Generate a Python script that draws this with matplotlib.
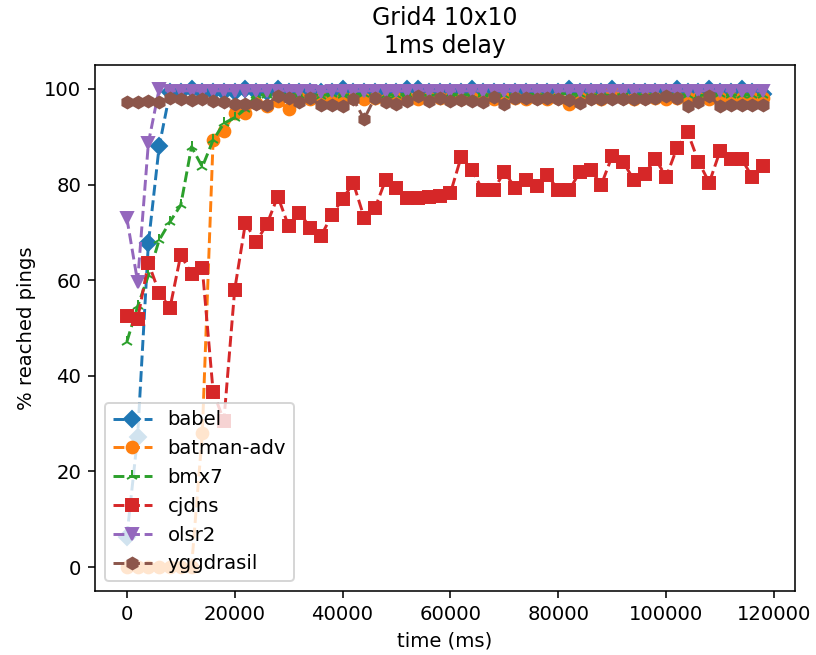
import matplotlib
matplotlib.use('Agg')
import matplotlib.pyplot as plt

# sample times (ms), one ping round every 2 s
time_ms = list(range(0, 120000, 2000))

babel = [6.3, 27.3, 67.7, 88.0,
         99.3, 99.3, 99.9, 99.3, 99.3, 99.3, 99.3, 99.9, 99.3, 99.3,
         99.9, 99.3, 99.3, 99.3, 99.3, 99.3, 99.9, 99.3, 99.3, 99.3,
         99.3, 99.3, 99.9, 99.9, 99.3, 99.3, 99.3, 99.3, 99.9, 99.3,
         99.3, 99.3, 99.3, 99.3, 99.3, 99.3, 99.3, 99.9, 99.3, 99.3,
         99.3, 99.9, 99.3, 99.3, 99.3, 99.3, 99.3, 99.9, 99.3, 99.3,
         99.9, 99.3, 99.3, 99.9, 99.3, 99.0]

batman_adv = [0, 0, 0, 0, 0, 0, 0,
              28.0, 89.3, 91.2, 95.0, 95.0, 97.0, 96.5, 97.5, 95.8,
              98.0, 97.8, 98.0, 97.5, 98.0, 98.2, 97.8, 98.0, 97.7, 98.0,
              98.1, 97.8, 98.0, 98.2, 98.0, 97.9, 98.0, 98.2, 97.8, 98.0,
              98.1, 97.9, 98.0, 97.8, 98.0, 96.8, 98.0, 98.1, 97.9, 99.5,
              98.0, 97.8, 98.0, 98.2, 97.9, 98.0, 98.0, 98.2, 97.9, 98.0,
              98.0, 98.1, 98.0, 98.0]

bmx7 = [47.1, 54.5, 61.0, 68.4, 72.2, 75.7, 87.9, 83.7, 89.3, 92.8,
        94.0, 95.8, 98.7,
        98.8, 98.6, 98.9, 98.7, 98.8, 98.6, 98.9, 98.7, 98.8, 98.9,
        98.6, 98.8, 98.7, 98.9, 98.8, 98.6, 98.8, 98.9, 98.7, 98.8,
        98.9, 98.6, 98.8, 98.7, 98.9, 98.8, 98.7, 99.2, 98.8, 98.9,
        98.7, 98.8, 98.6, 98.9, 98.8, 98.7, 98.8, 98.9, 98.7, 98.8,
        98.6, 98.8, 98.9, 98.7, 98.8, 98.8, 98.7]

cjdns = [52.5, 51.9, 63.6, 57.4, 54.2, 65.3, 61.3, 62.5, 36.7, 30.6,
         58.0, 72.0, 68.0, 71.8, 77.5, 71.3, 74.1, 71.0, 69.2, 73.6,
         77.0, 80.3, 73.1, 75.0, 81.0, 79.3, 77.2, 77.2, 77.4, 77.6,
         78.2, 85.8, 83.0, 78.8, 78.8, 82.7, 79.3, 81.0, 79.8, 82.0,
         78.8, 78.8, 82.6, 83.0, 80.0, 86.0, 84.8, 81.0, 82.2, 85.4,
         81.6, 87.6, 90.9, 84.8, 80.4, 87.0, 85.4, 85.4, 81.5, 83.8]

olsr2 = [73.0, 59.7, 88.7, 100,
         99.6, 99.6, 99.6, 99.6, 99.6, 99.6, 99.6, 99.6, 99.6, 99.6,
         99.6, 99.6, 99.6, 99.6, 99.4, 99.6, 99.6, 99.6, 99.6, 99.6,
         99.6, 99.6, 99.6, 99.6, 99.6, 99.6, 99.6, 99.6, 99.6, 99.6,
         99.6, 99.6, 99.6, 99.6, 99.6, 99.6, 99.6, 99.6, 99.6, 99.6,
         99.6, 99.6, 99.6, 99.6, 99.6, 99.6, 99.6, 99.6, 99.6, 99.6,
         99.6, 99.6, 99.6, 99.6, 99.6, 99.6]

yggdrasil = [97.3, 97.3, 97.4, 97.3, 98.0, 97.8, 97.6, 97.8, 97.4, 97.3,
             96.9, 96.9, 96.9, 96.7, 98.6, 98.0, 97.3, 98.0, 96.6, 96.6,
             96.4, 97.9, 93.7, 98.2, 97.2, 96.8, 97.4, 98.5, 97.5, 98.1,
             97.5, 97.7, 97.5, 97.2, 98.3, 96.8, 98.0, 98.0, 97.8, 98.0,
             97.8, 97.6, 97.0, 97.8, 97.8, 97.8, 97.8, 97.8, 97.8, 98.0,
             98.6, 98.0, 96.4, 97.2, 98.5, 96.4, 96.6, 96.6, 96.6, 96.6]

series = [('babel', babel, 'D'),
          ('batman-adv', batman_adv, 'o'),
          ('bmx7', bmx7, '2'),
          ('cjdns', cjdns, 's'),
          ('olsr2', olsr2, 'v'),
          ('yggdrasil', yggdrasil, 'h')]

fig = plt.figure(figsize=(816 / 141, 655 / 141), dpi=141)
fig.subplots_adjust(left=95 / 816, right=795 / 816, top=1 - 65 / 655, bottom=1 - 591 / 655)

for name, values, marker in series:
    plt.plot(time_ms, values, '--', marker=marker, label=name)

plt.title('Grid4 10x10\n1ms delay')
plt.xlabel('time (ms)')
plt.ylabel('% reached pings')
plt.legend(loc='lower left')
plt.savefig('out.png', dpi=141)
